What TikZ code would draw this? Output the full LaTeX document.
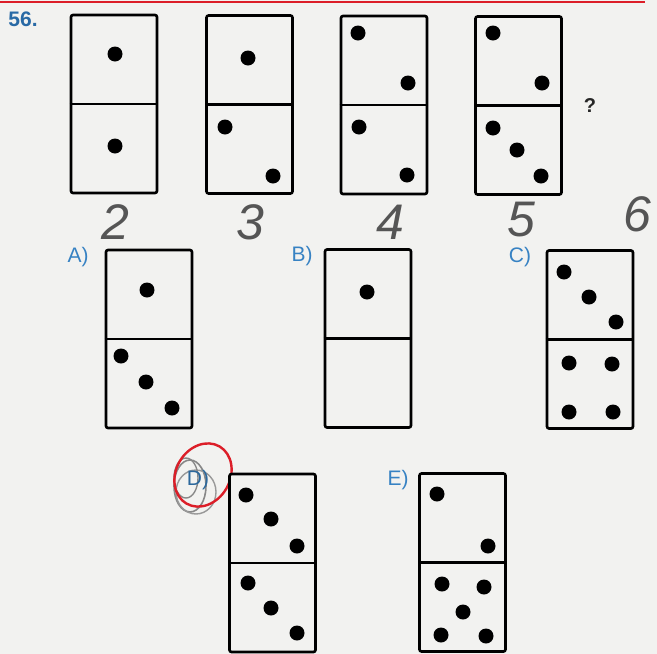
\documentclass[tikz,border=0pt]{standalone}
\usepackage{fontspec}
\setmainfont{Liberation Sans}
\definecolor{paper}{RGB}{242,242,240}
\definecolor{numblue}{RGB}{40,105,165}
\definecolor{labblue}{RGB}{55,130,195}
\definecolor{pen}{RGB}{85,85,85}
\definecolor{redpen}{RGB}{220,30,40}
\tikzset{
  domino/.style={draw=black, line width=2.6pt, rounded corners=2pt, minimum width=86pt, minimum height=178pt, inner sep=0pt, fill=paper},
  midline/.style={line width=2.6pt},
  pip/.style={fill=black},
  optlabel/.style={text=labblue, font=\fontsize{21}{21}\selectfont, inner sep=0pt},
  hand/.style={text=pen, font=\fontsize{50}{50}\selectfont\itshape, inner sep=0pt}
}
\begin{document}
\begin{tikzpicture}[x=1pt, y=-1pt]
\useasboundingbox (0,0) rectangle (657,654);
\fill[paper] (0,0) rectangle (657,654);
\draw[redpen, line width=2pt] (0,2) -- (645,2);

\node[text=numblue, font=\bfseries\fontsize{21}{21}\selectfont, inner sep=0pt] (num) at (23,19) {56.};

% row 1
\node[domino] (d1) at (114,104) {};
\draw[midline] (d1.west) -- (d1.east);
\fill[pip] (115,54) circle (7.5); \fill[pip] (115,146) circle (7.5);

\node[domino] (d2) at (249.5,104.5) {};
\draw[midline] (d2.west) -- (d2.east);
\fill[pip] (248,58) circle (7.5); \fill[pip] (225,127) circle (7.5); \fill[pip] (273,176) circle (7.5);

\node[domino] (d3) at (384,105) {};
\draw[midline] (d3.west) -- (d3.east);
\fill[pip] (358,33) circle (7.5); \fill[pip] (408,83) circle (7.5);
\fill[pip] (359,127) circle (7.5); \fill[pip] (407,175) circle (7.5);

\node[domino] (d4) at (518.5,105.5) {};
\draw[midline] (d4.west) -- (d4.east);
\fill[pip] (493,33) circle (7.5); \fill[pip] (542,83) circle (7.5);
\fill[pip] (493,128) circle (7.5); \fill[pip] (517,150) circle (7.5); \fill[pip] (541,176) circle (7.5);

\node[font=\bfseries\fontsize{20}{20}\selectfont, text=black!85, inner sep=0pt] (q) at (590,106) {?};

% handwritten counts
\node[hand] (h2) at (115,222) {2};
\node[hand] (h3) at (250,222) {3};
\node[hand] (h4) at (390,222) {4};
\node[hand] (h5) at (521,220) {5};
\node[hand] (h6) at (637,214) {6};

% row 2
\node[optlabel] (la) at (78,257) {A)};
\node[domino] (da) at (149,339) {};
\draw[midline] (da.west) -- (da.east);
\fill[pip] (147,290) circle (7.5);
\fill[pip] (121,356) circle (7.5); \fill[pip] (146,382) circle (7.5); \fill[pip] (172,408) circle (7.5);

\node[optlabel] (lb) at (302,256) {B)};
\node[domino] (db) at (368,338.5) {};
\draw[midline] (db.west) -- (db.east);
\fill[pip] (367,292) circle (7.5);

\node[optlabel] (lc) at (520,257) {C)};
\node[domino] (dc) at (590,339.5) {};
\draw[midline] (dc.west) -- (dc.east);
\fill[pip] (564,272) circle (7.5); \fill[pip] (589,297) circle (7.5); \fill[pip] (616,322) circle (7.5);
\fill[pip] (569,363) circle (7.5); \fill[pip] (612,364) circle (7.5);
\fill[pip] (569,412) circle (7.5); \fill[pip] (613,412) circle (7.5);

% row 3
\draw[pen!70, line width=1.6pt] (190,486) ellipse (16 and 26);
\draw[pen!60, line width=1.4pt] (196,492) ellipse (20 and 22);
\draw[pen!70, line width=1.4pt] (186,478) ellipse (12 and 20);
\node[optlabel, text=labblue!80!black] (ld) at (198,480) {D)};
\draw[redpen, line width=2.4pt, rotate around={-30:(203,475)}] (203,475) ellipse (27 and 33);

\node[domino] (dd) at (272.5,563) {};
\draw[midline] (dd.west) -- (dd.east);
\fill[pip] (246,495) circle (7.5); \fill[pip] (271,519) circle (7.5); \fill[pip] (297,546) circle (7.5);
\fill[pip] (248,583) circle (7.5); \fill[pip] (271,608) circle (7.5); \fill[pip] (297,633) circle (7.5);

\node[optlabel] (le) at (398,480) {E)};
\node[domino] (de) at (462.5,562.5) {};
\draw[midline] (de.west) -- (de.east);
\fill[pip] (437,494) circle (7.5); \fill[pip] (488,546) circle (7.5);
\fill[pip] (442,584) circle (7.5); \fill[pip] (484,587) circle (7.5); \fill[pip] (463,612) circle (7.5);
\fill[pip] (441,635) circle (7.5); \fill[pip] (486,636) circle (7.5);
\end{tikzpicture}
\end{document}
